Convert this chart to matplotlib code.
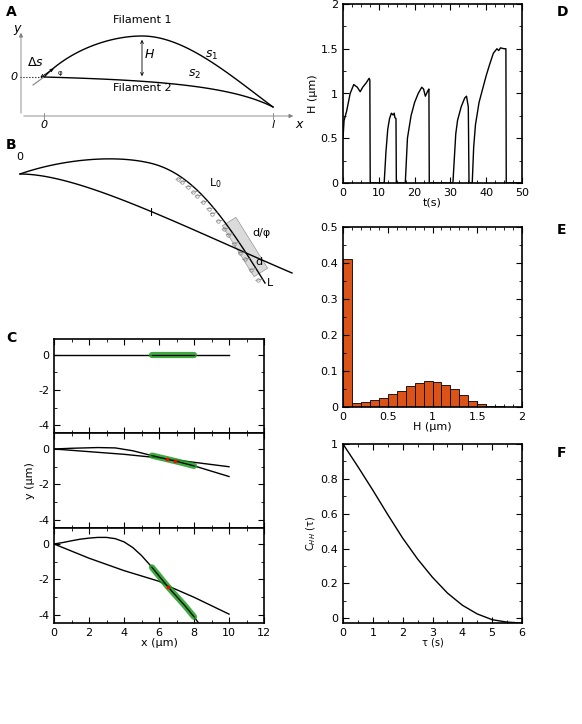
import numpy as np
import matplotlib.pyplot as plt
from matplotlib.patches import Polygon
from matplotlib.ticker import MultipleLocator

plt.rcParams['font.size'] = 8
plt.rcParams['xtick.direction'] = 'in'
plt.rcParams['ytick.direction'] = 'in'
plt.rcParams['xtick.top'] = True
plt.rcParams['ytick.right'] = True
plt.rcParams['axes.linewidth'] = 1.2

W, Hpx = 582, 724

# ---- data ----
# D: H(t) trace
t_d = [0, 0.3, 1, 2, 3, 4, 4.8, 5.5, 6.5, 7.3, 7.5, 7.6,
       11.5, 12, 12.5, 13, 13.5, 14, 14.3, 14.5, 14.8, 14.9,
       17.4, 18, 19, 20, 21, 22, 22.5, 23, 23.7, 24, 24.1,
       30.7, 31.5, 32, 33, 34, 34.5, 35, 35.2,
       36.1, 36.5, 37, 38, 39, 40, 41, 42, 43, 43.5, 44, 45, 45.5, 45.6, 50]
h_d = [0.5, 0.7, 0.8, 1.0, 1.1, 1.07, 1.02, 1.07, 1.12, 1.17, 1.15, 0,
       0, 0.35, 0.6, 0.72, 0.78, 0.76, 0.78, 0.73, 0.72, 0,
       0, 0.5, 0.75, 0.9, 1.0, 1.07, 1.05, 0.97, 1.03, 1.05, 0,
       0, 0.55, 0.7, 0.85, 0.95, 0.97, 0.85, 0,
       0, 0.4, 0.65, 0.9, 1.05, 1.2, 1.33, 1.45, 1.5, 1.48, 1.51, 1.5, 1.5, 0, 0]

# E: histogram of H
bin_left = np.arange(0, 2.0, 0.1)
bin_prob = [0.41, 0.01, 0.015, 0.02, 0.025, 0.035, 0.045, 0.058, 0.067, 0.073,
            0.069, 0.061, 0.049, 0.032, 0.017, 0.007, 0.003, 0.002, 0, 0]

# F: autocorrelation
tau = [0, 0.5, 1, 1.5, 2, 2.5, 3, 3.5, 4, 4.5, 5, 5.5, 6]
c_hh = [1, 0.87, 0.735, 0.595, 0.46, 0.34, 0.235, 0.145, 0.075, 0.025, -0.008, -0.022, -0.027]

# C: filament shapes
c1_x = [0, 10]
c1_y = [0, 0]
c2a_x = [0, 1, 2.5, 3.5, 4.5, 5.5, 7, 8, 10]
c2a_y = [0, 0.04, 0.08, 0.06, -0.1, -0.35, -0.7, -0.95, -1.55]
c2b_x = [0, 2, 4, 6, 8, 10]
c2b_y = [0, -0.15, -0.3, -0.5, -0.75, -1.0]
c3a_x = [0, 0.5, 1, 1.5, 2, 2.5, 3, 3.5, 4, 4.5, 5, 5.5, 6, 6.5, 7, 7.5, 8, 8.3]
c3a_y = [0, 0.08, 0.18, 0.27, 0.33, 0.37, 0.37, 0.3, 0.12, -0.2, -0.65, -1.2,
         -1.8, -2.4, -2.95, -3.5, -4.1, -4.5]
c3b_x = [0, 1, 2, 4, 6, 6.6, 8, 10]
c3b_y = [0, -0.4, -0.8, -1.5, -2.1, -2.4, -3.0, -3.95]
bond_x = (5.6, 8.0)

fig = plt.figure(figsize=(W / 100, Hpx / 100), dpi=100)


def rect(x0, y0, x1, y1):
    return [x0 / W, 1 - y1 / Hpx, (x1 - x0) / W, (y1 - y0) / Hpx]


def bez(p0, p1, p2, p3, n=60):
    s = np.linspace(0, 1, n)[:, None]
    p = [np.array(q, float) for q in (p0, p1, p2, p3)]
    return ((1 - s) ** 3 * p[0] + 3 * (1 - s) ** 2 * s * p[1]
            + 3 * (1 - s) * s ** 2 * p[2] + s ** 3 * p[3])


# ---- schematic A and B (pixel coordinates) ----
sa = fig.add_axes([0, 0, 1, 1])
sa.set_xlim(0, W)
sa.set_ylim(Hpx, 0)
sa.axis('off')
sa.set_zorder(-1)

# A
sa.annotate('', xy=(21, 30), xytext=(21, 116),
            arrowprops=dict(arrowstyle='-|>', lw=0.6, color='gray', mutation_scale=6))
sa.annotate('', xy=(296, 116), xytext=(21, 116),
            arrowprops=dict(arrowstyle='-|>', lw=0.6, color='gray', mutation_scale=6))
sa.plot([44, 44], [113, 119], color='gray', lw=0.6)
sa.plot([273, 273], [113, 119], color='gray', lw=0.6)
sa.plot([20, 44], [77, 77], ':', color='k', lw=0.8)
f1 = np.vstack([bez((44, 77), (70, 50), (110, 36), (142, 36)),
                bez((142, 36), (185, 36), (230, 75), (273, 107))])
f2 = bez((44, 77), (150, 80), (230, 85), (273, 107))
sa.plot(f1[:, 0], f1[:, 1], 'k', lw=1)
sa.plot(f2[:, 0], f2[:, 1], 'k', lw=1)
sa.plot([33, 44], [85, 77], color='gray', lw=0.8)
sa.annotate('', xy=(142, 37), xytext=(142, 79),
            arrowprops=dict(arrowstyle='<->', lw=0.6, mutation_scale=5))
sa.annotate('', xy=(56, 67), xytext=(38, 79),
            arrowprops=dict(arrowstyle='<->', lw=0.6, mutation_scale=5))
sa.text(13, 32, 'y', style='italic', fontsize=9)
sa.text(295, 128, 'x', style='italic', fontsize=9)
sa.text(10, 77, '0', style='italic', fontsize=8, va='center')
sa.text(44, 128, '0', style='italic', fontsize=8, ha='center')
sa.text(273, 128, 'l', style='italic', fontsize=8, ha='center')
sa.text(142, 23, 'Filament 1', ha='center', fontsize=8)
sa.text(142, 91, 'Filament 2', ha='center', fontsize=8)
sa.text(145, 58, 'H', style='italic', fontsize=9)
sa.text(205, 58, '$s_1$', fontsize=9)
sa.text(188, 77, '$s_2$', fontsize=9)
sa.text(35, 66, r'$\Delta s$', fontsize=9, ha='center')
sa.text(58, 75, 'φ', fontsize=5)

# B
u1 = np.vstack([bez((20, 174), (60, 160), (110, 155), (145, 162)),
                bez((145, 162), (190, 170), (220, 210), (265, 283))])
u2 = bez((20, 174), (80, 174), (180, 225), (292, 273))
sa.plot(u1[:, 0], u1[:, 1], 'k', lw=1)
sa.plot(u2[:, 0], u2[:, 1], 'k', lw=1)
ang = np.arctan2(283 - 230, 265 - 232)
dx, dy = np.cos(ang), np.sin(ang)
nx, ny = -dy, dx
cx, cy = 245, 247
Lh, Wh = 30, 8
corners = [(cx + a * Lh * dx + b * Wh * nx, cy + a * Lh * dy + b * Wh * ny)
           for a, b in [(-1, -1), (1, -1), (1, 1), (-1, 1)]]
sa.add_patch(Polygon(corners, closed=True, fc='lightgray', ec='gray', lw=0.5, alpha=0.8))
idx = np.linspace(78, 118, 16).astype(int)
for i in idx:
    px, py = u1[i]
    sa.plot([px, px - 7], [py, py + 1], color='gray', lw=0.5)
    sa.plot(px - 5, py + 1, 'o', ms=2.5, mfc='none', mec='gray', mew=0.5)
sa.text(20, 160, '0', fontsize=8, ha='center')
sa.text(209, 186, 'L$_0$', fontsize=8)
sa.text(150, 216, 'l', fontsize=8)
sa.text(252, 236, 'd/φ', fontsize=8)
sa.text(255, 265, 'd', fontsize=8)
sa.text(267, 286, 'L', fontsize=8)

for lab, (x, y) in zip('ABCDEF', [(6, 12), (6, 145), (6, 338), (557, 12), (557, 230), (557, 453)]):
    sa.text(x, y, lab, fontsize=10, fontweight='bold', va='center')

# ---- C ----
green = '#1f9a1f'
rows = [(339, 433), (433, 528), (528, 623)]
curves = [[(c1_x, c1_y)], [(c2a_x, c2a_y), (c2b_x, c2b_y)], [(c3a_x, c3a_y), (c3b_x, c3b_y)]]
for k, ((y0, y1), cs) in enumerate(zip(rows, curves)):
    ax = fig.add_axes(rect(54, y0, 264, y1))
    for xs, ys in cs:
        ax.plot(xs, ys, 'k', lw=1)
    xs, ys = cs[0]
    xb = np.linspace(*bond_x, 30)
    yb = np.interp(xb, xs, ys)
    ax.plot(xb, yb, color=green, lw=4.5, alpha=0.85, solid_capstyle='round')
    ax.plot(xb, yb, 'k', lw=0.8)
    if k > 0:
        xr = np.array([6.45, 6.9]) if k == 1 else np.array([6.5])
        ax.plot(xr, np.interp(xr, xs, ys), 's', color='red', ms=2)
    ax.set_xlim(0, 12)
    ax.set_ylim(-4.45, 0.9)
    ax.xaxis.set_major_locator(MultipleLocator(2))
    ax.xaxis.set_minor_locator(MultipleLocator(1))
    ax.yaxis.set_major_locator(MultipleLocator(2))
    ax.yaxis.set_minor_locator(MultipleLocator(1))
    ax.tick_params(which='major', length=4)
    ax.tick_params(which='minor', length=2)
    ax.set_yticks([0, -2, -4])
    ax.set_yticklabels(['0', '-2', '-4'])
    if k < 2:
        ax.set_xticklabels([])
    else:
        ax.set_xlabel('x (μm)', labelpad=0)
    if k == 1:
        ax.set_ylabel('y (μm)', labelpad=2)

# ---- D ----
ax = fig.add_axes(rect(343, 4, 522, 183))
ax.plot(t_d, h_d, 'k', lw=1)
ax.set_xlim(0, 50)
ax.set_ylim(0, 2)
ax.xaxis.set_major_locator(MultipleLocator(10))
ax.xaxis.set_minor_locator(MultipleLocator(2.5))
ax.yaxis.set_major_locator(MultipleLocator(0.5))
ax.yaxis.set_minor_locator(MultipleLocator(0.25))
ax.set_yticks([0, 0.5, 1, 1.5, 2])
ax.set_yticklabels(['0', '0.5', '1', '1.5', '2'])
ax.set_xlabel('t(s)', labelpad=0)
ax.set_ylabel('H (μm)', labelpad=2)
ax.tick_params(which='major', length=4)
ax.tick_params(which='minor', length=2)

# ---- E ----
ax = fig.add_axes(rect(343, 227, 522, 407))
ax.bar(bin_left, bin_prob, width=0.1, align='edge', color='#dc5318', edgecolor='k', lw=0.6)
ax.set_xlim(0, 2)
ax.set_ylim(0, 0.5)
ax.xaxis.set_major_locator(MultipleLocator(0.5))
ax.xaxis.set_minor_locator(MultipleLocator(0.1))
ax.yaxis.set_major_locator(MultipleLocator(0.1))
ax.yaxis.set_minor_locator(MultipleLocator(0.05))
ax.set_xticks([0, 0.5, 1, 1.5, 2])
ax.set_xticklabels(['0', '0.5', '1', '1.5', '2'])
ax.set_yticks([0, 0.1, 0.2, 0.3, 0.4, 0.5])
ax.set_yticklabels(['0', '0.1', '0.2', '0.3', '0.4', '0.5'])
ax.set_xlabel('H (μm)', labelpad=0)
ax.tick_params(which='major', length=4)
ax.tick_params(which='minor', length=2)

# ---- F ----
ax = fig.add_axes(rect(343, 444, 522, 623))
ax.plot(tau, c_hh, 'k', lw=1)
ax.set_xlim(0, 6)
ax.set_ylim(-0.027, 1)
ax.xaxis.set_major_locator(MultipleLocator(1))
ax.xaxis.set_minor_locator(MultipleLocator(0.5))
ax.yaxis.set_major_locator(MultipleLocator(0.2))
ax.yaxis.set_minor_locator(MultipleLocator(0.1))
ax.set_yticks([0, 0.2, 0.4, 0.6, 0.8, 1])
ax.set_yticklabels(['0', '0.2', '0.4', '0.6', '0.8', '1'])
ax.set_xlabel('τ (s)', labelpad=0, fontsize=7)
ax.set_ylabel('C$_{HH}$ (τ)', labelpad=2, fontsize=7)
ax.tick_params(which='major', length=4)
ax.tick_params(which='minor', length=2)

fig.savefig('out.png', dpi=100)
